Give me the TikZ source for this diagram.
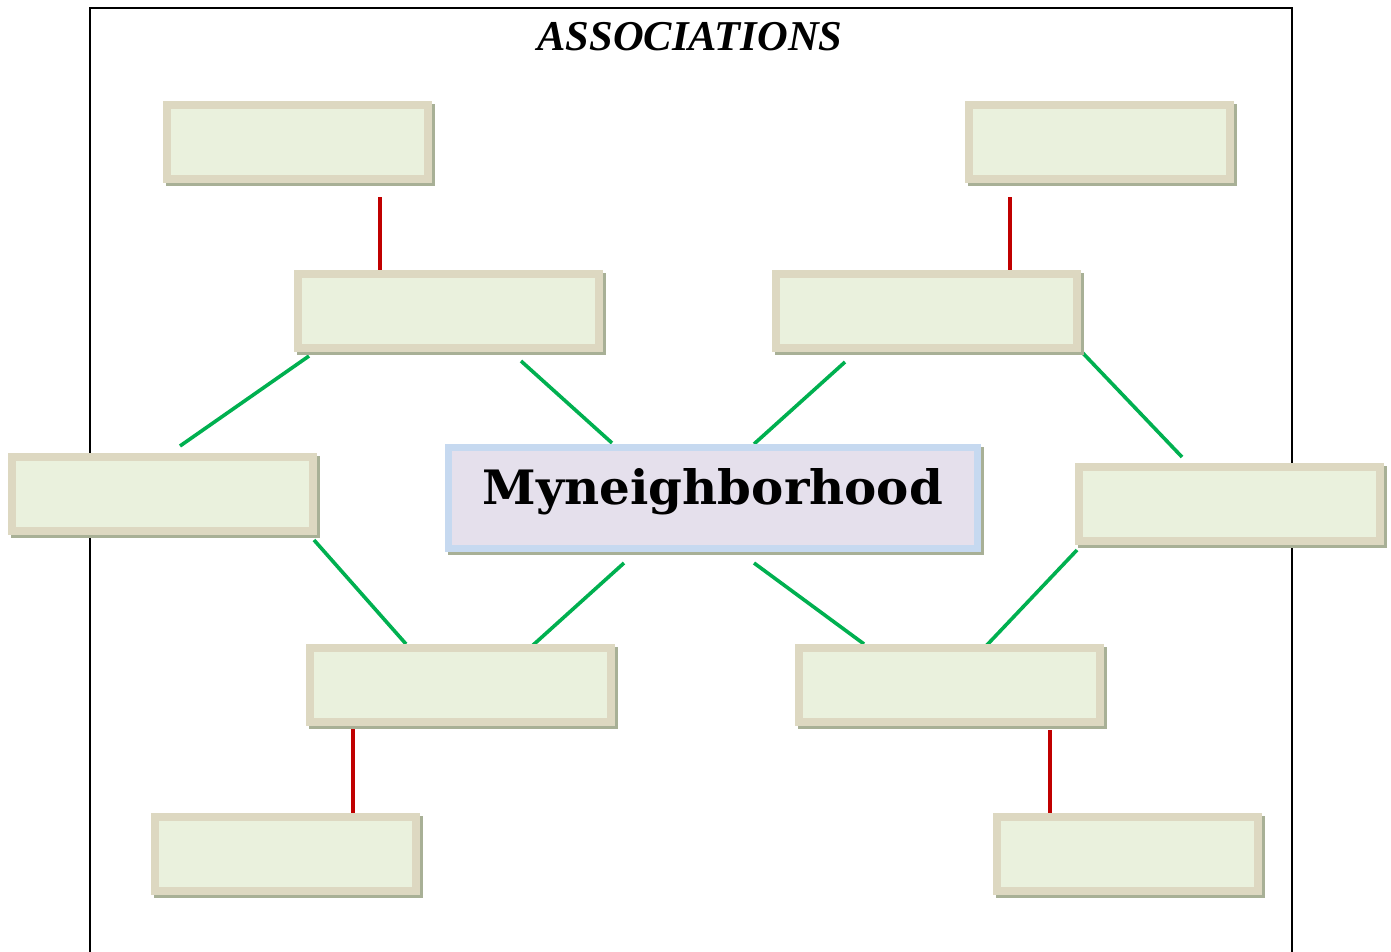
\documentclass[tikz,border=0pt]{standalone}
\usepackage{fontspec}
\setmainfont{Liberation Serif}
\newfontfamily\funfont{DejaVu Serif}
\usetikzlibrary{calc}
\definecolor{bxborder}{HTML}{DDD8C1}
\definecolor{bxfill}{HTML}{EAF1DD}
\definecolor{bxshadow}{HTML}{A8B096}
\definecolor{cborder}{HTML}{C6D9F0}
\definecolor{cfill}{HTML}{E5E0EC}
\definecolor{linkred}{HTML}{C00000}
\definecolor{linkgreen}{HTML}{00B050}
\tikzset{
  shadowed/.style={preaction={draw=bxshadow, fill=bxshadow, transform canvas={xshift=3pt,yshift=-3pt}}},
  bx/.style={shadowed, draw=bxborder, fill=bxfill, line width=8pt, inner sep=0pt, outer sep=0pt,
    minimum height=74pt},
  bxs/.style={bx, minimum width=261pt},
  bxl/.style={bx, minimum width=301pt},
  centerbox/.style={shadowed, draw=cborder, fill=cfill, line width=7pt, inner sep=0pt,
    minimum width=529pt, minimum height=101pt},
  redlink/.style={draw=linkred, line width=3.4pt},
  greenlink/.style={draw=linkgreen, line width=3.6pt},
  frame/.style={draw=black, line width=1.8pt}
}
\begin{document}
\begin{tikzpicture}[x=1pt,y=-1pt]
\useasboundingbox (0,0) rectangle (1391,951);
\fill[white] (0,0) rectangle (1391,951);
% page frame
\coordinate (fbl) at (90,955);
\coordinate (ftl) at (90,8);
\coordinate (ftr) at (1292,8);
\coordinate (fbr) at (1292,955);
\draw[frame] (fbl) -- (ftl) -- (ftr) -- (fbr);
\node (title) at (690,37) {\fontsize{42.5}{46}\selectfont\bfseries\itshape ASSOCIATIONS};
% endpoints of connectors
\coordinate (r1a) at (380,197); \coordinate (r1b) at (380,272);
\coordinate (r2a) at (1010,197); \coordinate (r2b) at (1010,272);
\coordinate (r3a) at (353,726); \coordinate (r3b) at (353,818);
\coordinate (r4a) at (1050,730); \coordinate (r4b) at (1050,816);
\coordinate (g1a) at (309,356); \coordinate (g1b) at (180,446);
\coordinate (g2a) at (521,361); \coordinate (g2b) at (612,443);
\coordinate (g3a) at (845,362); \coordinate (g3b) at (754,444);
\coordinate (g4a) at (1078,348); \coordinate (g4b) at (1182,457);
\coordinate (g5a) at (314,540); \coordinate (g5b) at (406,644);
\coordinate (g6a) at (624,563); \coordinate (g6b) at (532,646);
\coordinate (g7a) at (754,563); \coordinate (g7b) at (864,644);
\coordinate (g8a) at (1077,550); \coordinate (g8b) at (986,646);
\draw[redlink] (r1a) -- (r1b);
\draw[redlink] (r2a) -- (r2b);
\draw[redlink] (r3a) -- (r3b);
\draw[redlink] (r4a) -- (r4b);
\foreach \i in {1,...,8} {\draw[greenlink] (g\i a) -- (g\i b);}
% boxes
\node[bxs] (tl) at (297.5,141.5) {};
\node[bxs] (tr) at (1099.5,141.5) {};
\node[bxl] (ml) at (448.5,311) {};
\node[bxl] (mr) at (926,311) {};
\node[bxl] (lf) at (162,494) {};
\node[bxl] (rt) at (1229.5,503.5) {};
\node[bxl] (bml) at (460.5,685) {};
\node[bxl] (bmr) at (949.5,685) {};
\node[bxs] (bl) at (285,853.5) {};
\node[bxs] (br) at (1127.5,853.5) {};
\node[centerbox] (hub) at (713,498) {};
\node (hubtext) at (713,492) {\resizebox{460pt}{36pt}{\funfont\bfseries Myneighborhood}};
\end{tikzpicture}
\end{document}
